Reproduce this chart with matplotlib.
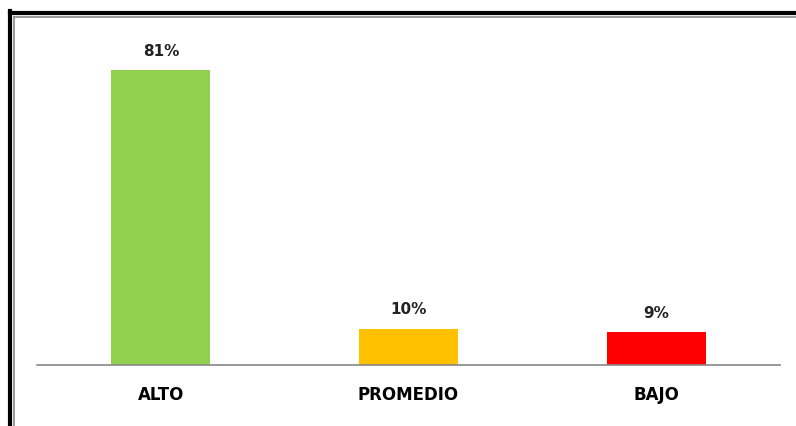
import matplotlib.pyplot as plt
from matplotlib.lines import Line2D

# Datos
categorias = ['ALTO', 'PROMEDIO', 'BAJO']
valores = [81, 10, 9]
etiquetas = ['81%', '10%', '9%']
colores = ['#92d050', '#ffc000', '#ff0000']

W, H = 796, 426
fig = plt.figure(figsize=(W / 100, H / 100), dpi=100)

# Ejes: base en y=365 px, de x=37 a x=780
ax = fig.add_axes([37 / W, (H - 365) / H, (780 - 37) / W, (365 - 20) / H])
x = range(len(categorias))
ax.bar(x, valores, width=0.4, color=colores)
ax.set_xlim(-0.5, 2.5)
ax.set_ylim(0, 345 / 3.64)

for xi, v, t in zip(x, valores, etiquetas):
    ax.text(xi, v + 3.2, t, ha='center', va='bottom', fontsize=11,
            fontweight='bold', color='#222222')

ax.set_xticks(list(x))
ax.set_xticklabels(categorias, fontsize=12, fontweight='bold')
ax.tick_params(axis='x', length=0, pad=15)
ax.set_yticks([])
for s in ['top', 'right', 'left']:
    ax.spines[s].set_visible(False)
ax.spines['bottom'].set_color('#888888')
ax.spines['bottom'].set_linewidth(1.2)

# Marco del gráfico
fig.add_artist(Line2D([10 / W, 1], [1 - 13 / H, 1 - 13 / H], color='black', lw=3))
fig.add_artist(Line2D([10 / W, 10 / W], [0, 1 - 11 / H], color='black', lw=3))
fig.add_artist(Line2D([13.5 / W, 1], [1 - 16.5 / H, 1 - 16.5 / H], color='#888888', lw=1.2))
fig.add_artist(Line2D([13.5 / W, 13.5 / W], [0, 1 - 16.5 / H], color='#888888', lw=1.2))

fig.savefig('out.png', dpi=100)
